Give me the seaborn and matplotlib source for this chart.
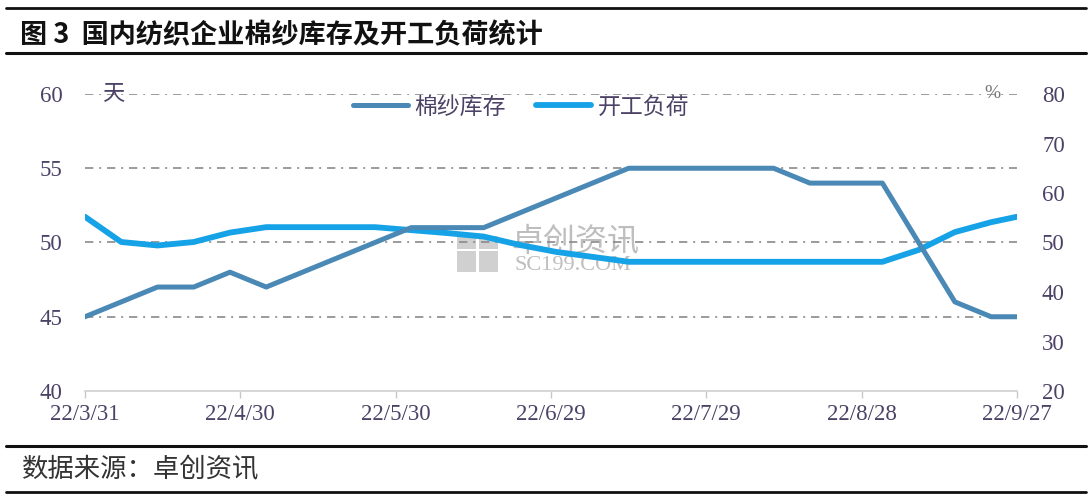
import pandas as pd
import seaborn as sns
import matplotlib.pyplot as plt
from matplotlib.lines import Line2D
from matplotlib.patches import Rectangle

# weekly data, 2022
dates = ['2022-03-31', '2022-04-07', '2022-04-14', '2022-04-21', '2022-04-28',
         '2022-05-05', '2022-05-12', '2022-05-19', '2022-05-26', '2022-06-02',
         '2022-06-09', '2022-06-16', '2022-06-23', '2022-06-30', '2022-07-07',
         '2022-07-14', '2022-07-21', '2022-07-28', '2022-08-04', '2022-08-11',
         '2022-08-18', '2022-08-25', '2022-09-01', '2022-09-08', '2022-09-15',
         '2022-09-22', '2022-09-27']
inventory = [45, 46, 47, 47, 48, 47, 48, 49, 50, 51, 51, 51, 52, 53, 54,
             55, 55, 55, 55, 55, 54, 54, 54, 50, 46, 45, 45]
load_rate = [55.2, 50.1, 49.4, 50.1, 52.0, 53.1, 53.1, 53.1, 53.1, 52.5,
             51.9, 51.2, 49.5, 48.1, 47.1, 46.1, 46.1, 46.1, 46.1, 46.1,
             46.1, 46.1, 46.1, 48.5, 52.1, 54.1, 55.2]

xtick_dates = ['2022-03-31', '2022-04-30', '2022-05-30', '2022-06-29',
               '2022-07-29', '2022-08-28', '2022-09-27']
xtick_labels = ['22/3/31', '22/4/30', '22/5/30', '22/6/29', '22/7/29',
                '22/8/28', '22/9/27']
left_ticks = [40, 45, 50, 55, 60]
right_ticks = [20, 30, 40, 50, 60, 70, 80]

df = pd.DataFrame({'date': pd.to_datetime(dates),
                   '棉纱库存': inventory,
                   '开工负荷': load_rate})

sns.set_theme(style='white')
plt.rcParams['font.family'] = ['Liberation Serif', 'Noto Sans CJK SC']
cjk = ['Noto Sans CJK SC', 'DejaVu Sans']
label_color = '#4b4266'
inv_color = '#4a88b5'
load_color = '#16a2e6'

W, H = 1092, 496
fig = plt.figure(figsize=(W / 100, H / 100), dpi=100)
fig.patch.set_facecolor('white')
ax = fig.add_axes([85 / W, 1 - 391 / H, 932 / W, 297 / H])
ax2 = ax.twinx()   # load rate, right scale
ax3 = ax.twinx()   # inventory, drawn on top

for a in (ax, ax2, ax3):
    a.patch.set_visible(False)
    for s in a.spines.values():
        s.set_visible(False)

sns.lineplot(data=df, x='date', y='开工负荷', ax=ax2, color=load_color,
             linewidth=4.2, solid_capstyle='round')
sns.lineplot(data=df, x='date', y='棉纱库存', ax=ax3, color=inv_color,
             linewidth=3.6, solid_capstyle='round')

ax.set_ylim(40, 60)
ax3.set_ylim(40, 60)
ax2.set_ylim(20, 80)
ax.set_xlim(pd.Timestamp(xtick_dates[0]), pd.Timestamp(xtick_dates[-1]))

ax.set_yticks(left_ticks)
ax.set_yticklabels([str(t) for t in left_ticks])
ax2.set_yticks(right_ticks)
ax2.set_yticklabels([str(t) for t in right_ticks])
ax3.set_yticks([])
ax.set_xticks(pd.to_datetime(xtick_dates))
ax.set_xticklabels(xtick_labels)
for a in (ax, ax2, ax3):
    a.set_xlabel('')
    a.set_ylabel('')

ax.tick_params(axis='y', length=0, pad=16, labelsize=16.5, labelcolor=label_color)
ax2.tick_params(axis='y', length=0, pad=18, labelsize=16.5, labelcolor=label_color)
ax.tick_params(axis='x', bottom=True, length=5, width=1, color='#c8c8c8',
               pad=4, labelsize=16.5, labelcolor=label_color)
ax.spines['bottom'].set_visible(True)
ax.spines['bottom'].set_color('#d0d0d0')
ax.spines['bottom'].set_linewidth(1.2)

# dash-dot grid on the left scale, above the axis line
for v in left_ticks[1:]:
    ax.axhline(v, color='#8a8a8a', linewidth=1.2, linestyle=(0, (5, 3.5, 1.2, 3.5)), zorder=0)

# unit labels
ax.text(0.018, 1.0, '天', transform=ax.transAxes, fontsize=16, family=cjk,
        color=label_color, va='center', ha='left')
fig.text(992 / W, 1 - 94 / H, '%', fontsize=14, color='#777777', va='center', ha='center')

# legend
handles = [Line2D([], [], color=inv_color, linewidth=3.6, solid_capstyle='round'),
           Line2D([], [], color=load_color, linewidth=4.2, solid_capstyle='round')]
leg = fig.legend(handles, ['棉纱库存', '开工负荷'], loc='center',
                 bbox_to_anchor=(521 / W, 1 - 107 / H), ncol=2, frameon=False,
                 handlelength=2.4, handletextpad=0.3, columnspacing=1.3,
                 prop={'family': cjk, 'size': 16.5})
for t in leg.get_texts():
    t.set_color(label_color)

# watermark
fig.text(575 / W, 1 - 242 / H, '卓创资讯', fontsize=23, family=cjk, color='#a8a8a8',
         alpha=0.75, ha='center', va='center', zorder=-2)
fig.text(573 / W, 1 - 266 / H, 'SC199.COM', fontsize=16, color='#a8a8a8',
         alpha=0.75, ha='center', va='center', zorder=-2)
for (px, py, pw, ph) in [(457, 236, 19, 13), (479, 236, 19, 13),
                         (457, 251, 19, 21), (479, 251, 19, 21)]:
    fig.add_artist(Rectangle((px / W, 1 - (py + ph) / H), pw / W, ph / H,
                             transform=fig.transFigure, facecolor='#bdbdbd',
                             edgecolor='none', alpha=0.7, zorder=-2))

# title and footer with rules
fig.text(20 / W, 1 - 35 / H, '图 3  国内纺织企业棉纱库存及开工负荷统计', fontsize=19.5,
         family=cjk, fontweight='bold', color='#111111', ha='left', va='center')
fig.text(22 / W, 1 - 470 / H, '数据来源：卓创资讯', fontsize=19, family=cjk,
         color='#333333', ha='left', va='center')
for y, lw in [(8, 2.0), (53, 2.2), (446, 2.2), (492, 2.0)]:
    fig.add_artist(Line2D([6 / W, 1086 / W], [1 - y / H, 1 - y / H],
                          transform=fig.transFigure, color='#111111', linewidth=lw))

fig.savefig('out.png', dpi=100)
